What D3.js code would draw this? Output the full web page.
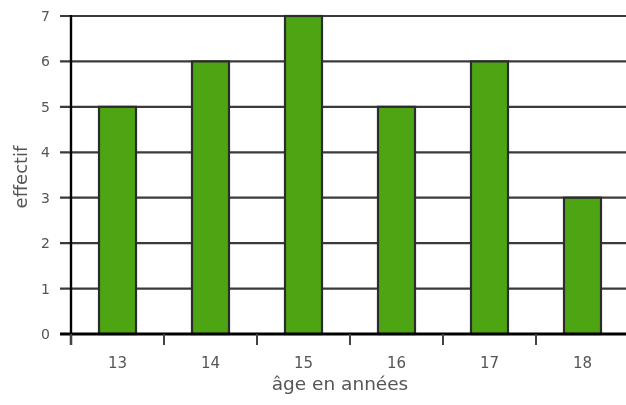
<!DOCTYPE html>
<html>
<head>
<meta charset="utf-8">
<script src="https://cdn.jsdelivr.net/npm/d3@7"></script>
<style>
  body { margin: 0; background: #fff; }
  svg { display: block; }
  text { font-family: "DejaVu Sans", sans-serif; }
</style>
</head>
<body>
<svg id="chart" width="626" height="405"></svg>
<script>
// Répartition des élèves par âge
const ages = ["13", "14", "15", "16", "17", "18"];
const effectifs = [5, 6, 7, 5, 6, 3];
const yTicks = [0, 1, 2, 3, 4, 5, 6, 7];
const xTitle = "âge en années";
const yTitle = "effectif";

const svg = d3.select("#chart");
const plotLeft = 71, plotRight = 629, plotTop = 16, plotBottom = 334;
const gridStart = 60;

const x = d3.scaleBand().domain(ages).range([plotLeft, plotRight]).paddingInner(0).paddingOuter(0);
const y = d3.scaleLinear().domain([0, 7]).range([plotBottom, plotTop]);

const g = svg.append("g").style("filter", "blur(0.5px)");

// horizontal grid lines
g.append("g")
  .selectAll("line")
  .data(yTicks.filter(d => d > 0))
  .join("line")
  .attr("x1", gridStart).attr("x2", 626)
  .attr("y1", d => y(d)).attr("y2", d => y(d))
  .attr("stroke", "#3a3a3a")
  .attr("stroke-width", 2.2);

// bars
const barW = 37;
g.append("g")
  .selectAll("rect")
  .data(effectifs)
  .join("rect")
  .attr("x", (d, i) => x(ages[i]) + x.bandwidth() / 2 - barW / 2)
  .attr("y", d => y(d))
  .attr("width", barW)
  .attr("height", d => plotBottom - y(d))
  .attr("fill", "#4ea514")
  .attr("stroke", "#2c2c2c")
  .attr("stroke-width", 2.2);

// y axis
const yAxis = d3.axisLeft(y).tickValues(yTicks).tickSize(0).tickPadding(21).tickFormat(d3.format("d"));
const ya = g.append("g").attr("transform", `translate(${plotLeft},0)`).call(yAxis);
ya.select(".domain").remove();
ya.selectAll("text").attr("fill", "#555").style("font-size", "14px");
g.append("line")
  .attr("x1", plotLeft).attr("x2", plotLeft)
  .attr("y1", plotTop - 1).attr("y2", plotBottom + 11)
  .attr("stroke", "#000").attr("stroke-width", 2.4);

// x axis: ticks at band boundaries, labels at band centres
const xa = g.append("g").attr("transform", `translate(0,${plotBottom})`);
xa.append("line")
  .attr("x1", gridStart).attr("x2", 626)
  .attr("stroke", "#000").attr("stroke-width", 3);
xa.selectAll("line.tick")
  .data(ages)
  .join("line")
  .attr("class", "tick")
  .attr("x1", d => x(d)).attr("x2", d => x(d))
  .attr("y1", 0).attr("y2", 11)
  .attr("stroke", "#444").attr("stroke-width", 2);
const xAxis = d3.axisBottom(x).tickSize(0).tickPadding(23);
const xl = g.append("g").attr("transform", `translate(0,${plotBottom})`).call(xAxis);
xl.select(".domain").remove();
xl.selectAll("text").attr("fill", "#555").style("font-size", "15px");

// axis titles
g.append("text")
  .attr("x", 340).attr("y", 390)
  .attr("text-anchor", "middle")
  .attr("fill", "#555")
  .style("font-size", "18.5px")
  .text(xTitle);
g.append("text")
  .attr("transform", "translate(27,177) rotate(-90)")
  .attr("text-anchor", "middle")
  .attr("fill", "#555")
  .style("font-size", "18px")
  .text(yTitle);
</script>
</body>
</html>
